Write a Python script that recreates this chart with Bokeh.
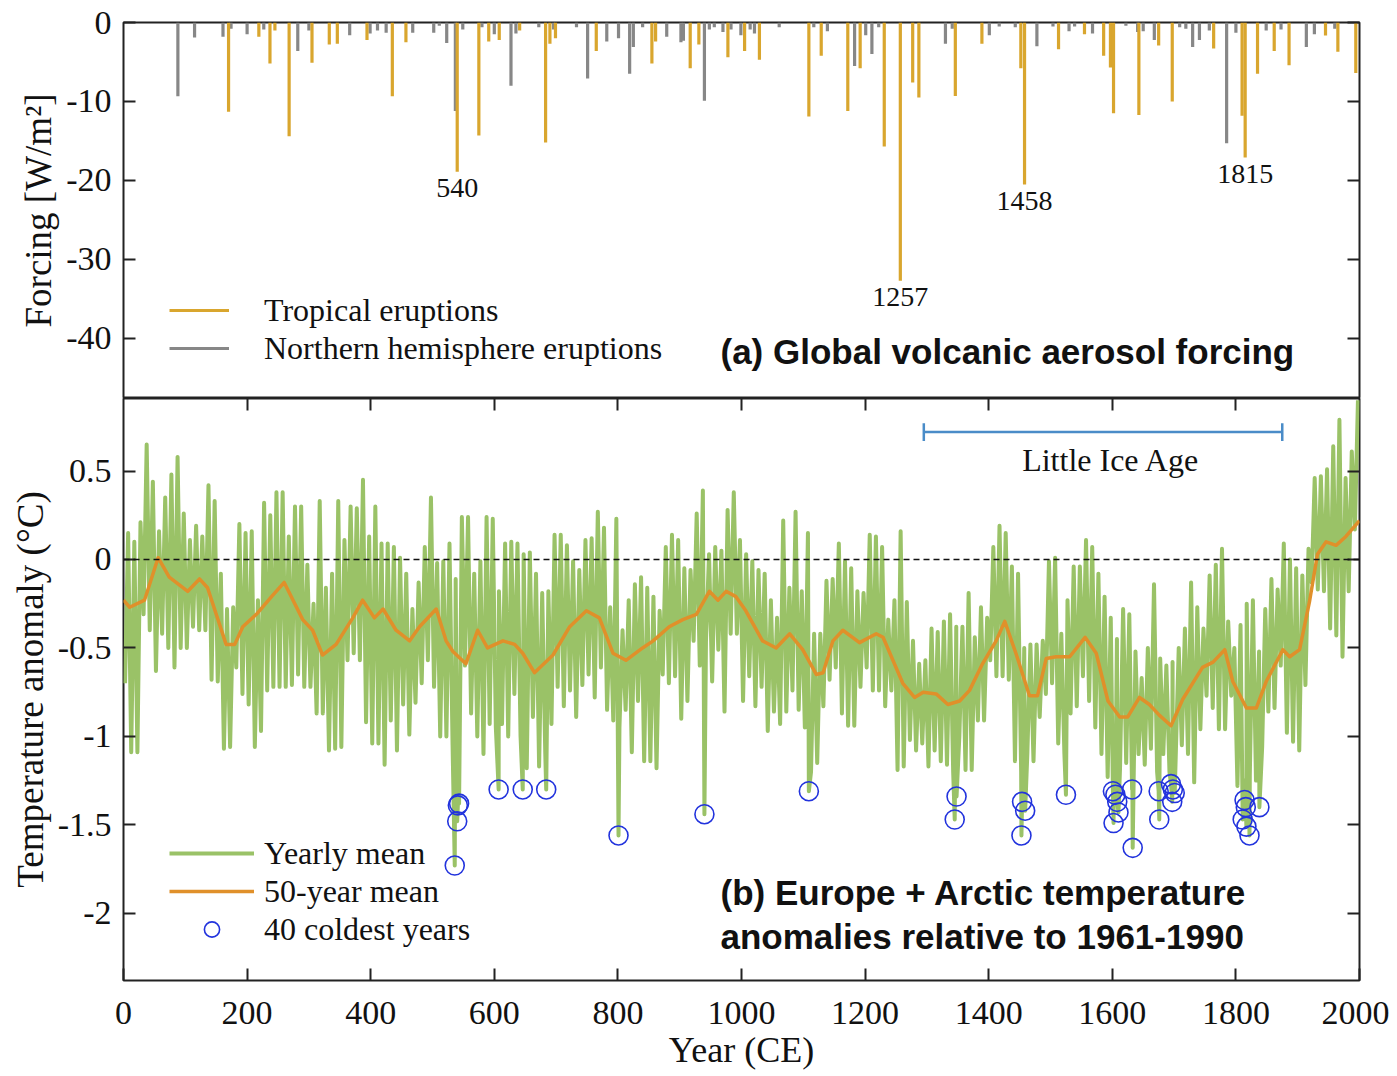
from bokeh.plotting import figure
from bokeh.models import (Range1d, LinearAxis, FixedTicker, CustomJSTickFormatter,
                          Span, Label, Legend, LegendItem, ColumnDataSource)
from bokeh.layouts import column
from bokeh.embed import file_html
from bokeh.resources import INLINE
from bokeh.core.properties import value

SERIF = "Liberation Serif"
SANS = "Liberation Sans"

# ---------------- data: (a) volcanic forcing ----------------
trop_years = [170, 219, 237, 245, 268, 305, 333, 346, 394, 435,
              457, 540, 575, 591, 608, 641, 683, 690, 699, 765,
              855, 861, 917, 931, 978, 1005, 1029, 1109, 1129, 1172,
              1192, 1231, 1257, 1277, 1287, 1346, 1389, 1452, 1458, 1513,
              1555, 1586, 1597, 1602, 1643, 1675, 1697, 1764, 1810, 1815,
              1835, 1862, 1886, 1945, 1965, 1994]
trop_forcing = [-11.3, -1.8, -5.2, -1.0, -14.4, -5.1, -2.8, -2.7, -2.2, -9.35,
                -2.5, -18.9, -14.3, -2.4, -2.2, -1.0, -15.2, -2.7, -2.0, -3.6,
                -5.2, -2.4, -5.8, -2.8, -4.4, -3.6, -4.7, -11.9, -4.2, -11.2,
                -5.8, -15.7, -32.7, -7.6, -9.5, -9.3, -2.7, -5.8, -20.5, -3.4,
                -1.5, -4.2, -5.7, -11.5, -11.7, -2.9, -10.0, -3.3, -11.8, -17.1,
                -6.5, -3.6, -5.4, -1.65, -3.7, -6.4]

nh_years = [88, 115, 161, 174, 200, 227, 282, 300, 366, 399,
            411, 425, 468, 502, 511, 523, 537, 549, 580, 600,
            627, 635, 672, 696, 733, 751, 782, 801, 819, 825,
            840, 879, 902, 906, 940, 948, 956, 970, 983, 999,
            1014, 1021, 1061, 1117, 1139, 1183, 1201, 1211, 1222, 1330,
            1341, 1401, 1417, 1443, 1478, 1504, 1530, 1539, 1568, 1622,
            1641, 1650, 1668, 1709, 1719, 1730, 1741, 1757, 1785, 1800,
            1849, 1873, 1914, 1927, 1960]
nh_forcing = [-9.35, -1.9, -1.8, -0.8, -1.5, -0.9, -3.6, -1.0, -1.6, -1.4,
              -1.0, -1.3, -1.3, -1.3, -0.4, -2.6, -11.2, -0.9, -0.6, -1.5,
              -8.0, -1.4, -0.6, -0.9, -0.6, -7.1, -2.4, -2.0, -6.5, -3.1,
              -0.6, -1.8, -2.5, -2.3, -9.9, -0.9, -0.6, -1.2, -0.9, -1.6,
              -0.9, -1.4, -0.6, -0.6, -1.1, -5.5, -1.6, -4.0, -0.6, -2.7,
              -0.8, -1.6, -0.5, -0.6, -3.0, -0.5, -1.1, -0.5, -1.4, -0.4,
              -1.2, -1.1, -2.2, -0.6, -0.8, -3.1, -2.2, -1.0, -15.3, -1.3,
              -1.0, -0.9, -3.1, -1.5, -0.8]

labelled_eruptions = [540, 1257, 1458, 1815]

# ---------------- data: (b) temperature anomalies ----------------
decade_starts = list(range(0, 2000, 10))
yearly_high = [
    0.15, 0.10, 0.21, 0.65, 0.44, 0.16, 0.35, 0.48, 0.58, 0.26,
    0.11, 0.19, 0.13, 0.42, 0.33, -0.08, -0.28, -0.27, 0.20, 0.15,
    0.16, -0.23, 0.32, 0.25, 0.38, 0.38, 0.13, 0.30, 0.30, -0.03,
    -0.25, 0.33, -0.16, -0.08, 0.33, 0.11, 0.30, 0.29, 0.45, 0.13,
    0.30, 0.09, 0.09, 0.07, 0.01, -0.08, -0.28, -0.13, 0.07, 0.35,
    -0.02, -0.01, 0.09, -0.11, 0.24, 0.24, -0.08, -0.01, 0.24, 0.23,
    -0.18, 0.09, 0.10, 0.09, 0.03, 0.04, -0.08, -0.19, -0.18, 0.14,
    0.14, 0.08, -0.01, -0.06, 0.11, 0.12, 0.27, 0.18, -0.27, 0.23,
    -0.40, -0.23, -0.14, -0.10, -0.16, -0.21, -0.29, 0.07, 0.14, 0.11,
    -0.05, -0.06, 0.26, 0.39, 0.03, 0.07, 0.05, 0.28, 0.38, 0.11,
    0.03, -0.01, -0.06, -0.08, -0.23, -0.33, 0.22, -0.16, 0.27, -0.18,
    0.15, -0.42, -0.42, -0.12, -0.11, 0.09, -0.01, -0.05, -0.18, -0.19,
    0.14, 0.13, 0.07, -0.34, -0.23, 0.16, -0.24, -0.46, -0.59, -0.57,
    -0.39, -0.41, -0.35, -0.31, -0.38, -0.38, -0.19, -0.44, -0.27, -0.33,
    0.07, 0.19, 0.15, -0.04, -0.08, -0.50, -0.48, -0.48, -0.46, -0.01,
    0.01, -0.42, -0.23, -0.04, -0.04, 0.11, 0.07, -0.08, -0.21, -0.33,
    -0.45, -0.28, -0.31, -0.52, -0.67, -0.50, -0.14, -0.56, -0.60, -0.58,
    -0.50, -0.39, -0.13, -0.27, -0.39, -0.09, -0.03, 0.06, -0.35, -0.50,
    -0.37, -0.25, -0.23, -0.52, -0.28, -0.11, -0.17, 0.09, 0.00, -0.05,
    -0.09, 0.06, 0.46, 0.47, 0.51, 0.64, 0.79, 0.46, 0.61, 0.90]
yearly_low = [
    -0.70, -1.09, -1.09, -0.31, -0.40, -0.63, -0.42, -0.50, -0.61, -0.50,
    -0.50, -0.38, -0.40, -0.40, -0.68, -0.69, -1.07, -1.06, -0.61, -0.76,
    -0.82, -1.06, -0.97, -0.74, -0.72, -0.72, -0.72, -0.71, -0.65, -0.72,
    -0.72, -0.87, -0.87, -1.08, -1.07, -1.06, -0.57, -0.53, -0.57, -0.92,
    -1.04, -1.04, -1.16, -0.91, -1.08, -0.82, -0.99, -0.81, -0.70, -0.57,
    -0.72, -1.00, -1.00, -1.05, -1.01, -0.60, -0.87, -1.00, -1.10, -0.93,
    -0.95, -0.93, -1.00, -0.76, -1.00, -1.18, -0.89, -1.17, -1.10, -0.93,
    -0.72, -0.83, -0.74, -0.89, -0.71, -0.65, -0.78, -0.61, -0.85, -0.91,
    -0.95, -0.85, -1.09, -0.80, -1.14, -1.14, -1.18, -0.65, -0.70, -0.66,
    -0.90, -0.80, -0.46, -0.60, -0.46, -0.69, -0.51, -0.86, -0.42, -0.42,
    -0.80, -0.66, -0.83, -0.72, -0.97, -0.86, -0.93, -0.86, -0.74, -0.85,
    -0.95, -1.20, -1.15, -0.83, -0.68, -0.61, -0.87, -0.94, -0.94, -0.72,
    -0.61, -0.74, -0.74, -0.83, -0.74, -1.19, -1.17, -1.02, -1.08, -1.04,
    -1.17, -1.08, -1.14, -1.16, -1.20, -1.00, -1.19, -1.19, -0.91, -0.91,
    -0.57, -0.66, -0.66, -0.68, -1.14, -1.20, -1.10, -1.14, -0.89, -0.76,
    -0.70, -1.04, -1.10, -0.87, -0.83, -0.66, -0.80, -0.95, -1.10, -1.23,
    -1.25, -1.18, -1.15, -1.25, -1.10, -1.16, -1.07, -1.20, -1.10, -1.20,
    -1.13, -1.05, -1.10, -1.26, -0.96, -0.77, -0.84, -0.96, -0.96, -0.77,
    -1.28, -1.25, -1.22, -1.25, -1.06, -0.86, -0.84, -0.60, -0.98, -1.03,
    -1.08, -0.71, -0.13, -0.17, -0.18, -0.39, -0.43, -0.55, -0.18, 0.17]

mean50_years = [0, 10, 34, 56, 74, 104, 123, 136, 166, 180, 193, 215, 242, 260,
                290, 306, 322, 344, 371, 387, 406, 420, 441, 463, 479, 506, 522,
                533, 554, 573, 589, 614, 633, 646, 665, 695, 722, 749, 770, 792,
                813, 840, 857, 883, 905, 927, 948, 962, 975, 991, 1007, 1034,
                1056, 1078, 1099, 1121, 1132, 1148, 1164, 1191, 1218, 1229, 1261,
                1280, 1294, 1315, 1334, 1353, 1369, 1390, 1412, 1426, 1444, 1466,
                1479, 1493, 1509, 1531, 1556, 1574, 1593, 1612, 1625, 1644, 1660,
                1676, 1695, 1714, 1746, 1763, 1782, 1795, 1817, 1833, 1849, 1876,
                1887, 1903, 1919, 1932, 1946, 1962, 1978, 2000]
mean50_vals = [-0.23, -0.27, -0.23, 0.01, -0.10, -0.18, -0.11, -0.16, -0.48, -0.48,
               -0.38, -0.31, -0.20, -0.13, -0.34, -0.40, -0.54, -0.48, -0.33, -0.23,
               -0.33, -0.28, -0.40, -0.46, -0.38, -0.28, -0.46, -0.52, -0.59, -0.40,
               -0.50, -0.46, -0.48, -0.53, -0.64, -0.54, -0.38, -0.29, -0.33, -0.53,
               -0.57, -0.50, -0.46, -0.38, -0.34, -0.31, -0.18, -0.23, -0.18, -0.21,
               -0.29, -0.46, -0.50, -0.42, -0.51, -0.65, -0.64, -0.46, -0.40, -0.47,
               -0.42, -0.44, -0.70, -0.78, -0.75, -0.76, -0.82, -0.80, -0.74, -0.59,
               -0.46, -0.35, -0.53, -0.77, -0.77, -0.56, -0.55, -0.55, -0.44, -0.53,
               -0.80, -0.89, -0.89, -0.78, -0.82, -0.88, -0.94, -0.79, -0.61, -0.58,
               -0.51, -0.69, -0.84, -0.84, -0.69, -0.51, -0.55, -0.51, -0.24, 0.03,
               0.10, 0.08, 0.13, 0.22]

cold_years = [536, 540, 541, 543, 607, 646, 684, 801, 940, 1109,
              1345, 1348, 1453, 1454, 1459, 1525, 1601, 1602, 1605, 1608,
              1610, 1632, 1633, 1675, 1676, 1695, 1697, 1698, 1701, 1811,
              1814, 1816, 1817, 1822, 1838]
cold_vals = [-1.73, -1.48, -1.39, -1.38, -1.30, -1.30, -1.30, -1.56, -1.44, -1.31,
             -1.47, -1.34, -1.56, -1.37, -1.42, -1.33, -1.31, -1.49, -1.33, -1.37,
             -1.43, -1.30, -1.63, -1.31, -1.47, -1.27, -1.37, -1.30, -1.32, -1.47,
             -1.36, -1.40, -1.51, -1.56, -1.40]

lia_start, lia_end, lia_level = 1295, 1875, 0.72

x_ticks = [0, 200, 400, 600, 800, 1000, 1200, 1400, 1600, 1800, 2000]
forcing_ticks = [0, -10, -20, -30, -40]
temp_ticks = [0.5, 0, -0.5, -1, -1.5, -2]

# ---------------- colours ----------------
C_TROP = "#D9A62E"
C_NH = "#878787"
C_YEAR = "#9AC267"
C_MEAN = "#E0902A"
C_COLD = "#2233DD"
C_LIA = "#4A8CC8"
C_FRAME = "#222222"

FRAME_W = 1236
LEFT = 123
RIGHT = 30

x_range = Range1d(0, 2000)
fmt = CustomJSTickFormatter(code="return tick.toString();")
blank = CustomJSTickFormatter(code="return '';")


def style_axis(ax, labels=True):
    ax.axis_line_color = None
    ax.major_tick_in = 12
    ax.major_tick_out = 0
    ax.minor_tick_line_color = None
    ax.major_tick_line_color = C_FRAME
    ax.major_tick_line_width = 2
    ax.major_label_text_font = SERIF
    ax.major_label_text_color = "#111111"
    ax.axis_label_text_font = SERIF
    ax.axis_label_text_font_style = "normal"
    ax.axis_label_text_color = "#111111"
    if labels:
        ax.formatter = fmt
        ax.major_label_text_font_size = "34px"
        ax.major_label_standoff = 12
        ax.axis_label_text_font_size = "37px"
        ax.axis_label_standoff = 4
    else:
        ax.formatter = blank
        ax.major_label_text_font_size = "1px"
        ax.major_label_standoff = 0


# ---------------- panel (a) ----------------
p1 = figure(frame_width=FRAME_W, frame_height=376, x_range=x_range,
            y_range=Range1d(-47.6, 0), output_backend="svg",
            toolbar_location=None, min_border_left=LEFT, min_border_right=RIGHT,
            min_border_top=22, min_border_bottom=0)
p1.grid.visible = False
p1.xaxis.visible = False
p1.outline_line_color = C_FRAME
p1.outline_line_width = 2
p1.background_fill_color = "white"
p1.border_fill_color = "white"

yax = p1.yaxis[0]
yax.ticker = FixedTicker(ticks=forcing_ticks)
yax.axis_label = "Forcing [W/m²]"
style_axis(yax)
rax = LinearAxis(ticker=FixedTicker(ticks=forcing_ticks))
style_axis(rax, labels=False)
p1.add_layout(rax, "right")

nh_src = ColumnDataSource(dict(x=nh_years, y0=[0] * len(nh_years), y1=nh_forcing))
tr_src = ColumnDataSource(dict(x=trop_years, y0=[0] * len(trop_years), y1=trop_forcing))
r_nh = p1.segment(x0="x", y0="y0", x1="x", y1="y1", source=nh_src,
                  line_color=C_NH, line_width=3.2)
r_tr = p1.segment(x0="x", y0="y0", x1="x", y1="y1", source=tr_src,
                  line_color=C_TROP, line_width=3.2)

tip = dict(zip(trop_years, trop_forcing))
lab_src = ColumnDataSource(dict(x=labelled_eruptions,
                                y=[tip[yv] - 0.9 for yv in labelled_eruptions],
                                t=[str(yv) for yv in labelled_eruptions]))
p1.text(x="x", y="y", text="t", source=lab_src, text_align="center",
        text_baseline="top", text_font=value(SERIF), text_font_size="28px",
        text_color="#111111")

leg1 = Legend(items=[LegendItem(label="Tropical eruptions", renderers=[r_tr]),
                     LegendItem(label="Northern hemisphere eruptions", renderers=[r_nh])],
              location=(46, 31))
leg1.border_line_color = None
leg1.background_fill_alpha = 0
leg1.padding = 0
leg1.margin = 0
leg1.spacing = 0
leg1.glyph_width = 60
leg1.glyph_height = 38
leg1.label_height = 38
leg1.label_standoff = 35
leg1.label_text_font = SERIF
leg1.label_text_font_size = "32px"
leg1.label_text_color = "#111111"
p1.add_layout(leg1, "center")

p1.add_layout(Label(x=966, y=-41.6, text="(a) Global volcanic aerosol forcing",
                    text_font=SANS, text_font_style="bold", text_font_size="35px",
                    text_baseline="middle", text_color="#111111"))

# ---------------- panel (b) ----------------
p2 = figure(frame_width=FRAME_W, frame_height=582, x_range=x_range,
            y_range=Range1d(-2.38, 0.91), output_backend="svg",
            toolbar_location=None, min_border_left=LEFT, min_border_right=RIGHT,
            min_border_top=0, min_border_bottom=0)
p2.grid.visible = False
p2.outline_line_color = C_FRAME
p2.outline_line_width = 2
p2.background_fill_color = "white"
p2.border_fill_color = "white"

xax = p2.xaxis[0]
xax.ticker = FixedTicker(ticks=x_ticks)
xax.axis_label = "Year (CE)"
style_axis(xax)
xax.major_label_standoff = 21
xax.axis_label_standoff = 3
xax.axis_label_text_font_size = "36px"

y2 = p2.yaxis[0]
y2.ticker = FixedTicker(ticks=temp_ticks)
y2.axis_label = "Temperature anomaly (°C)"
style_axis(y2)

tax = LinearAxis(ticker=FixedTicker(ticks=x_ticks[1:-1]))
style_axis(tax, labels=False)
p2.add_layout(tax, "above")
r2ax = LinearAxis(ticker=FixedTicker(ticks=temp_ticks))
style_axis(r2ax, labels=False)
p2.add_layout(r2ax, "right")

# yearly series: per-decade extremes plus the coldest years, in time order
pts = []
for d, lo, hi in zip(decade_starts, yearly_low, yearly_high):
    pts.append((d + 2.5, lo))
    pts.append((d + 7.5, hi))
pts += list(zip(cold_years, cold_vals))
pts.sort()
r_year = p2.line([p[0] for p in pts], [p[1] for p in pts], line_color=C_YEAR,
                 line_width=4.0, line_join="round")

r_mean = p2.line(mean50_years, mean50_vals, line_color=C_MEAN, line_width=3.5,
                 line_join="round")

r_cold = p2.scatter(cold_years, cold_vals, marker="circle", size=19,
                    fill_color=None, line_color=C_COLD, line_width=1.6)

p2.add_layout(Span(location=0, dimension="width", line_color="#111111",
                   line_dash="6 4", line_width=1.5))

# Little Ice Age bracket
cap = 0.05
p2.segment(x0=[lia_start, lia_start, lia_end], y0=[lia_level, lia_level - cap, lia_level - cap],
           x1=[lia_end, lia_start, lia_end], y1=[lia_level, lia_level + cap, lia_level + cap],
           line_color=C_LIA, line_width=2.5)
p2.add_layout(Label(x=(lia_start + lia_end) / 2, y=lia_level - 0.16, x_offset=8,
                    text="Little Ice Age",
                    text_font=SERIF, text_font_size="32px", text_align="center",
                    text_baseline="middle", text_color="#111111"))

leg2 = Legend(items=[LegendItem(label="Yearly mean", renderers=[r_year]),
                     LegendItem(label="50-year mean", renderers=[r_mean]),
                     LegendItem(label="40 coldest years", renderers=[r_cold])],
              location=(46, 32))
leg2.border_line_color = None
leg2.background_fill_alpha = 0
leg2.padding = 0
leg2.margin = 0
leg2.spacing = 0
leg2.glyph_width = 85
leg2.glyph_height = 38
leg2.label_height = 38
leg2.label_standoff = 10
leg2.label_text_font = SERIF
leg2.label_text_font_size = "32px"
leg2.label_text_color = "#111111"
p2.add_layout(leg2, "center")

p2.add_layout(Label(x=966, y=-1.88, text="(b) Europe + Arctic temperature",
                    text_font=SANS, text_font_style="bold", text_font_size="35px",
                    text_baseline="middle", text_color="#111111"))
p2.add_layout(Label(x=966, y=-2.13, text="anomalies relative to 1961-1990",
                    text_font=SANS, text_font_style="bold", text_font_size="35px",
                    text_baseline="middle", text_color="#111111"))

layout = column(p1, p2, spacing=0)
open("out.html", "w").write(file_html(layout, INLINE))
